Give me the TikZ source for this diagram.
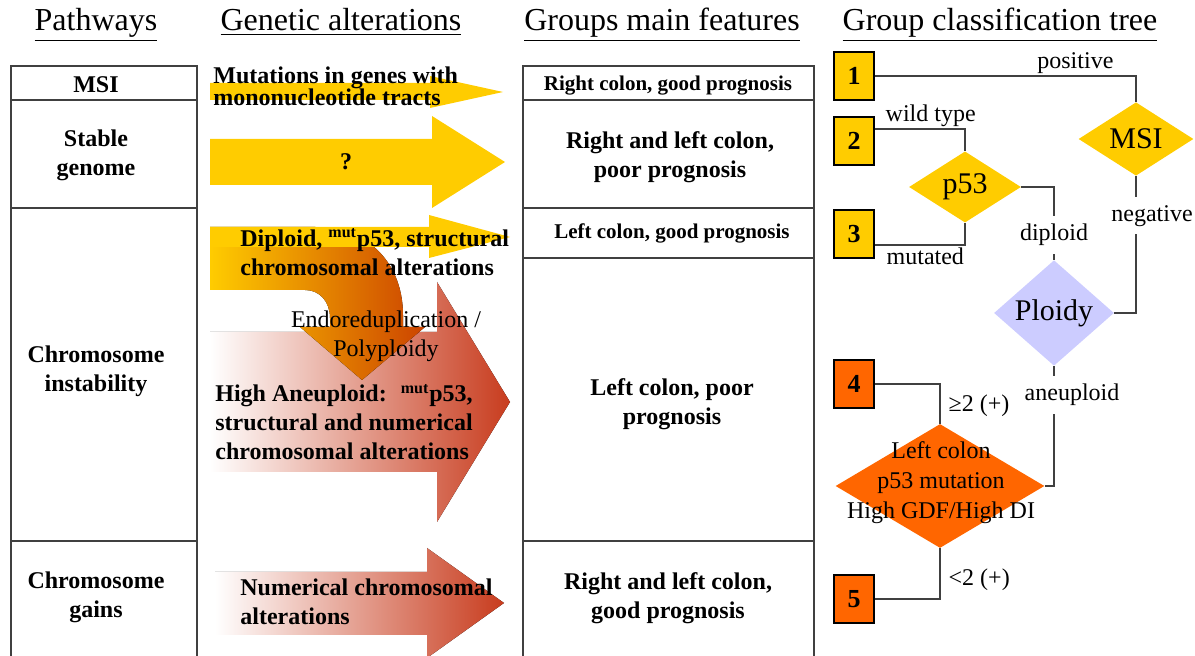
\documentclass[tikz,border=0pt]{standalone}
\usepackage{fontspec}
\setmainfont{Liberation Serif}
\usetikzlibrary{shapes.geometric}
\definecolor{Gold}{HTML}{FFCC00}
\definecolor{Tangerine}{HTML}{FF6600}
\definecolor{Lavender}{HTML}{CCCCFF}
\definecolor{Amber}{HTML}{EB8C00}
\definecolor{Burnt}{HTML}{CC4400}
\definecolor{Rust}{HTML}{C83C1E}
\definecolor{Frame}{HTML}{404040}
\tikzset{
  head/.style={font=\fontsize{16}{18}\selectfont,anchor=base,inner sep=0pt},
  grid/.style={draw=Frame,line width=0.8pt},
  celltxt/.style={font=\fontsize{12}{14.5}\selectfont\bfseries,align=center,inner sep=0pt},
  smalltxt/.style={font=\fontsize{10.5}{12}\selectfont\bfseries,inner sep=0pt},
  alttxt/.style={font=\fontsize{12}{14.5}\selectfont\bfseries,align=left,anchor=west,inner sep=0pt},
  yarrow/.style={fill=Gold},
  rarrow/.style={left color=white,right color=Rust},
  group/.style={draw=black,line width=0.8pt,minimum width=20pt,minimum height=24pt,inner sep=0pt,font=\fontsize{13}{15}\selectfont\bfseries},
  dia/.style={diamond,inner sep=0pt,font=\fontsize{15}{17}\selectfont},
  link/.style={draw=Frame,line width=0.7pt},
  lbl/.style={font=\fontsize{12}{14}\selectfont,inner sep=1pt},
  gap/.style={lbl,fill=white,inner ysep=4pt}
}

\begin{document}
\begin{tikzpicture}[x=0.5pt,y=-0.5pt]
  \useasboundingbox (0,0) rectangle (1195,656);
  % column titles
  \node[head] (tpath) at (96,31) {\underline{Pathways}};
  \node[head] (tgen) at (341,31) {\underline{Genetic alterations}};
  \node[head] (tfeat) at (662,31) {\underline{Groups main features}};
  \node[head] (ttree) at (1000,31) {\underline{Group classification tree}};

  % tables
  \draw[grid] (11,656) |- (197,66) -- (197,656);
  \foreach \y in {100,208,541} \draw[grid] (11,\y) -- (197,\y);
  \draw[grid] (523,656) |- (814,66) -- (814,656);
  \foreach \y in {100,208,258,541} \draw[grid] (523,\y) -- (814,\y);

  \node[celltxt] (pmsi) at (96,85) {MSI};
  \node[celltxt] (pstable) at (96,155) {Stable\\genome};
  \node[celltxt] (pcin) at (96,371) {Chromosome\\instability};
  \node[celltxt] (pgain) at (96,597) {Chromosome\\gains};

  \node[smalltxt] (fmsi) at (668,86) {Right colon, good prognosis};
  \node[celltxt] (fstable) at (670,157) {Right and left colon,\\poor prognosis};
  \node[smalltxt] (fdip) at (672,233) {Left colon, good prognosis};
  \node[celltxt] (fcin) at (672,404) {Left colon, poor\\prognosis};
  \node[celltxt] (fgain) at (668,598) {Right and left colon,\\good prognosis};

  % arrows
  \fill[yarrow] (210,83) -- (430,83) -- (430,76) -- (503,92) -- (430,108) -- (430,100) -- (210,100) -- cycle;
  \fill[yarrow] (210,139) -- (432,139) -- (432,116) -- (505,162) -- (432,208) -- (432,185) -- (210,185) -- cycle;
  \fill[rarrow] (210,332) -- (437,332) -- (437,282) -- (510,402) -- (437,522) -- (437,472) -- (210,472) -- cycle;
  \fill[left color=Gold,middle color=Amber,right color=Burnt] (210,227) -- (315,227)
    .. controls (370,227) and (403,265) .. (403,315) -- (403,327) -- (425,327) -- (362,380)
    -- (300,327) -- (330,327) -- (330,318) .. controls (330,302) and (320,290) .. (305,290)
    -- (210,290) -- cycle;
  \fill[yarrow] (210,227) -- (429,227) -- (429,215) -- (510,237) -- (429,258) -- (429,247) -- (210,247) -- cycle;
  \fill[rarrow] (215,572) -- (427,572) -- (427,548) -- (504,603) -- (427,658) -- (427,635) -- (215,635) -- cycle;

  \node[alttxt,font=\fontsize{12}{11}\selectfont\bfseries] (gmsi) at (213,86) {Mutations in genes with\\mononucleotide tracts};
  \node[celltxt] (gstable) at (346,162) {?};
  \node[alttxt] (gdip) at (240,252) {Diploid, \textsuperscript{mut}p53, structural\\chromosomal alterations};
  \node[celltxt,font=\fontsize{12}{14.5}\selectfont] (gendo) at (386,336) {Endoreduplication /\\Polyploidy};
  \node[alttxt] (ganeu) at (215,422) {High Aneuploid: \ \textsuperscript{mut}p53,\\structural and numerical\\chromosomal alterations};
  \node[alttxt] (ggain) at (240,602) {Numerical chromosomal\\alterations};

  % classification tree
  \node[group,fill=Gold] (g1) at (854,76) {1};
  \node[group,fill=Gold] (g2) at (854,141) {2};
  \node[group,fill=Gold] (g3) at (854,234) {3};
  \node[group,fill=Tangerine] (g4) at (854,384) {4};
  \node[group,fill=Tangerine] (g5) at (854,599) {5};

  \node[dia,fill=Gold,minimum width=57.5pt,minimum height=36pt] (msi) at (1136,139) {MSI};
  \node[dia,fill=Gold,minimum width=56pt,minimum height=35pt] (p53) at (965,187) {p53};
  \node[dia,fill=Lavender,minimum width=60pt,minimum height=37pt] (ploidy) at (1054,313) {Ploidy};
  \node[dia,fill=Tangerine,minimum width=104.5pt,minimum height=62pt] (lc) at (940,486) {};
  \node[align=center,font=\fontsize{12}{15}\selectfont,inner sep=0pt] (lctxt) at (941,483) {Left colon\\p53 mutation\\High GDF/High DI};

  \draw[link] (g1.east) -| node[lbl,pos=0.384,above] {positive} (msi.north);
  \draw[link] ([yshift=6pt]g2.east) -| node[lbl,pos=0.31,above] {wild type} (p53.north);
  \draw[link] ([yshift=-5.5pt]g3.east) -| node[lbl,pos=0.28,below] {mutated} (p53.south);
  \draw[link] (p53.east) -| node[gap,pos=0.83] {diploid} (ploidy.north);
  \draw[link] (msi.south) |- node[gap,pos=0.145,xshift=8pt] {negative} (ploidy.east);
  \draw[link] (ploidy.south) |- node[gap,pos=0.12,xshift=9pt] {aneuploid} (lc.east);
  \draw[link] (lc.north) |- node[lbl,pos=0.23,right=3pt] {≥2 (+)} (g4.east);
  \draw[link] (lc.south) |- node[lbl,pos=0.31,right=3pt] {<2 (+)} (g5.east);
\end{tikzpicture}
\end{document}
